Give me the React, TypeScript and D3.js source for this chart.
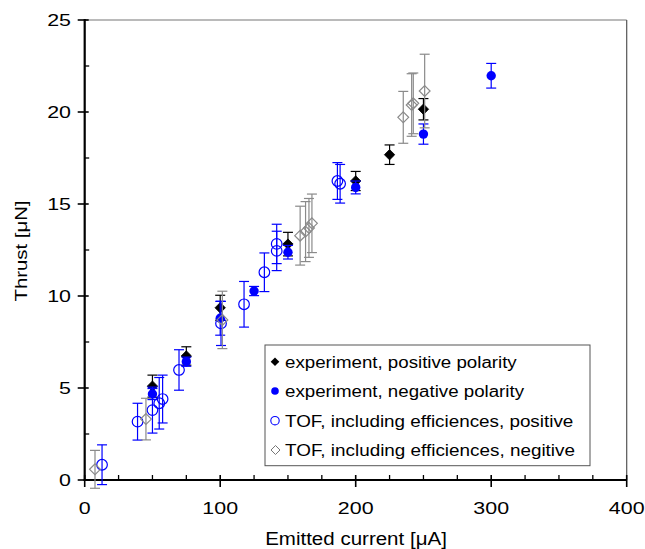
import React from "react";
import * as d3 from "d3";

const W = 645;
const H = 549;

// experiment, positive polarity
const posX = [50, 75, 100, 150, 200, 225, 250];
const posY = [5.1, 6.74, 9.36, 12.82, 16.25, 17.68, 20.15];
const posErr = [0.6, 0.5, 0.68, 0.64, 0.52, 0.53, 0.58];

// experiment, negative polarity
const negX = [50, 75, 100, 125, 150, 200, 250, 300];
const negY = [4.67, 6.43, 8.79, 10.27, 12.38, 15.9, 18.8, 21.97];
const negErr = [0.3, 0.25, 0.92, 0.25, 0.37, 0.35, 0.55, 0.67];

// TOF, including efficiences, positive
const tofPosX = [12.8, 39, 50, 55, 57.5, 69.6, 100.6, 117.6, 132.6, 141.7, 141.7, 186.5, 188.5];
const tofPosY = [0.83, 3.17, 3.8, 4.17, 4.4, 5.98, 8.51, 9.55, 11.29, 12.83, 12.45, 16.25, 16.1];
const tofPosErr = [1.08, 1.0, 1.25, 1.4, 1.3, 1.1, 1.2, 1.24, 1.05, 1.07, 1.07, 1.0, 1.05];

// TOF, including efficiences, negitive
const tofNegX = [7.6, 45.2, 101.6, 159, 163, 165.5, 167.7, 235.1, 241.3, 242.5, 250.9];
const tofNegY = [0.58, 3.31, 8.7, 13.28, 13.5, 13.7, 13.95, 19.71, 20.38, 20.47, 21.14];
const tofNegErr = [1.03, 1.13, 1.56, 1.6, 1.63, 1.6, 1.59, 1.41, 1.7, 1.65, 2.0];

const xTicks = [0, 100, 200, 300, 400];
const yTicks = [0, 5, 10, 15, 20, 25];
const legendLabels = [
  "experiment, positive polarity",
  "experiment, negative polarity",
  "TOF, including efficiences, positive",
  "TOF, including efficiences, negitive",
];
const legendWidths = [231.7, 239, 288.3, 290];

const FONT = "'Liberation Sans', Arial, Helvetica, sans-serif";
const BLUE = "#0000ff";
const GRAY = "#8a8a8a";

const x = d3.scaleLinear().domain([0, 400]).range([84.7, 626.7]);
const y = d3.scaleLinear().domain([0, 25]).range([480, 20]);

function diamondPath(cx: number, cy: number, r: number) {
  return `M${cx},${cy - r}L${cx + r},${cy}L${cx},${cy + r}L${cx - r},${cy}Z`;
}

function ErrBars({ xs, ys, es, color }: { xs: number[]; ys: number[]; es: number[]; color: string }) {
  return (
    <g stroke={color} strokeWidth={1.2} fill="none">
      {xs.map((v, i) => {
        const cx = x(v);
        const t = y(ys[i] + es[i]);
        const b = y(ys[i] - es[i]);
        return (
          <g key={i}>
            <line x1={cx} x2={cx} y1={t} y2={b} />
            <line x1={cx - 5} x2={cx + 5} y1={t} y2={t} />
            <line x1={cx - 5} x2={cx + 5} y1={b} y2={b} />
          </g>
        );
      })}
    </g>
  );
}

export default function App() {
  const minorY = d3.range(2.5, 25, 5);
  const minorX = d3.range(0, 400, 25).filter((v) => v % 100 !== 0);
  const lgX = 275;
  const lgRows = [361.7, 391, 420.7, 450];
  return (
    <svg
      width={W}
      height={H}
      style={{ position: "absolute", left: 0, top: 0, background: "#fff" }}
      fontFamily={FONT}
    >
      <rect x={0} y={0} width={W} height={H} fill="#fff" />
      {/* frame */}
      <line x1={x(0)} x2={x(400)} y1={y(25)} y2={y(25)} stroke="#777" strokeWidth={1.2} />
      <line x1={x(400)} x2={x(400)} y1={y(25)} y2={y(0)} stroke="#555" strokeWidth={1.2} />
      {/* y axis */}
      <line x1={x(0)} x2={x(0)} y1={y(25) - 1} y2={y(0) + 1} stroke="#000" strokeWidth={2.2} />
      {yTicks.map((t) => (
        <g key={t}>
          <line x1={x(0) - 7} x2={x(0) + 4} y1={y(t)} y2={y(t)} stroke="#000" strokeWidth={1.6} />
          <text
            x={71}
            y={y(t) + 6}
            textAnchor="end"
            fontSize={16.5}
            textLength={String(t).length * 11.9}
            lengthAdjust="spacingAndGlyphs"
            fill="#000"
          >
            {t}
          </text>
        </g>
      ))}
      {minorY.map((t) => (
        <line key={t} x1={x(0)} x2={x(0) + 4.5} y1={y(t)} y2={y(t)} stroke="#000" strokeWidth={1.3} />
      ))}
      {/* x axis */}
      <line x1={x(0) - 1} x2={x(400)} y1={y(0)} y2={y(0)} stroke="#000" strokeWidth={2.2} />
      {xTicks.map((t) => (
        <g key={t}>
          <line x1={x(t)} x2={x(t)} y1={y(0) - 5} y2={y(0) + 7} stroke="#000" strokeWidth={1.6} />
          <text
            x={x(t)}
            y={513.5}
            textAnchor="middle"
            fontSize={16.5}
            textLength={String(t).length * 11.9}
            lengthAdjust="spacingAndGlyphs"
            fill="#000"
          >
            {t}
          </text>
        </g>
      ))}
      {minorX.map((t) => (
        <line key={t} x1={x(t)} x2={x(t)} y1={y(0) - 5} y2={y(0)} stroke="#000" strokeWidth={1.3} />
      ))}
      {/* axis titles */}
      <text
        x={356}
        y={545}
        textAnchor="middle"
        fontSize={17.5}
        textLength={181.7}
        lengthAdjust="spacingAndGlyphs"
        fill="#000"
      >
        Emitted current [μA]
      </text>
      <text
        transform="translate(26.5,251) rotate(-90)"
        textAnchor="middle"
        fontSize={16.5}
        textLength={101}
        lengthAdjust="spacingAndGlyphs"
        fill="#000"
      >
        Thrust [μN]
      </text>

      {/* experiment positive */}
      <ErrBars xs={posX} ys={posY} es={posErr} color="#000" />
      {posX.map((v, i) => (
        <path key={i} d={diamondPath(x(v), y(posY[i]), 5.2)} fill="#000" stroke="#000" strokeWidth={0.8} />
      ))}
      {/* experiment negative */}
      <ErrBars xs={negX} ys={negY} es={negErr} color={BLUE} />
      {negX.map((v, i) => (
        <circle key={i} cx={x(v)} cy={y(negY[i])} r={4.7} fill={BLUE} />
      ))}
      {/* TOF positive */}
      <ErrBars xs={tofPosX} ys={tofPosY} es={tofPosErr} color={BLUE} />
      {tofPosX.map((v, i) => (
        <circle key={i} cx={x(v)} cy={y(tofPosY[i])} r={5.3} fill="none" stroke={BLUE} strokeWidth={1.2} />
      ))}
      {/* TOF negative */}
      <ErrBars xs={tofNegX} ys={tofNegY} es={tofNegErr} color={GRAY} />
      {tofNegX.map((v, i) => (
        <path key={i} d={diamondPath(x(v), y(tofNegY[i]), 5.4)} fill="none" stroke={GRAY} strokeWidth={1.2} />
      ))}

      {/* legend */}
      <rect x={265} y={345} width={325} height={120.7} fill="#fff" stroke="#555" strokeWidth={1} />
      <path d={diamondPath(lgX, lgRows[0], 4.3)} fill="#000" />
      <circle cx={lgX} cy={lgRows[1]} r={3.8} fill={BLUE} />
      <circle cx={lgX} cy={lgRows[2]} r={4.2} fill="none" stroke={BLUE} strokeWidth={1.1} />
      <path d={diamondPath(lgX + 0.5, lgRows[3], 4.5)} fill="none" stroke="#777" strokeWidth={1} />
      {legendLabels.map((l, i) => (
        <text
          key={l}
          x={285}
          y={lgRows[i] + 6}
          fontSize={16}
          textLength={legendWidths[i]}
          lengthAdjust="spacingAndGlyphs"
          fill="#000"
        >
          {l}
        </text>
      ))}
    </svg>
  );
}
